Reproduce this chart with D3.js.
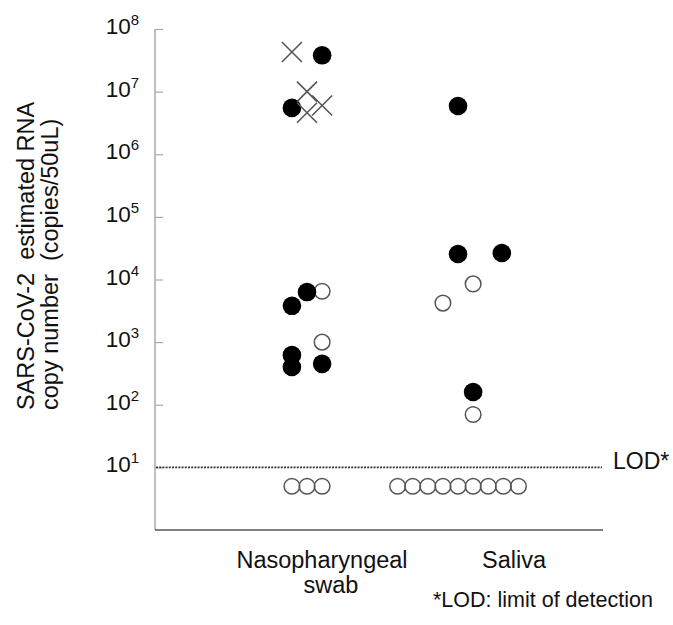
<!DOCTYPE html>
<html>
<head>
<meta charset="utf-8">
<script src="https://cdn.jsdelivr.net/npm/d3@7"></script>
<style>
  body { margin: 0; background: #fff; }
  text { font-family: Arial, "Liberation Sans", sans-serif; fill: #111; }
</style>
</head>
<body>
<svg width="673" height="625"></svg>
<script>
// categories and their slot position on the x axis (jitter slots around each)
var categories = ["Nasopharyngeal swab", "Saliva"];
var categoryCenter = [0, 10];
var yTicks = [1e1, 1e2, 1e3, 1e4, 1e5, 1e6, 1e7, 1e8];
var LOD = 10;

// values: [copies, slot offset]
var npFilled = [[3.8e7, 1], [5.5e6, -1], [6300, 0], [3800, -1], [620, -1], [400, -1], [450, 1]];
var npCross = [[4.3e7, -1], [1.0e7, 0], [4.6e6, 0], [6.0e6, 1]];
var npOpen = [[6500, 1], [1000, 1]];
var npBelow = [[5, -1], [5, 0], [5, 1]];

var salFilled = [[5.9e6, 0], [25500, 0], [26500, 2.9], [160, 1]];
var salOpen = [[8500, 1], [4200, -1], [70, 1]];
var salBelow = [[5, -4], [5, -3], [5, -2], [5, -1], [5, 0], [5, 1], [5, 2], [5, 3], [5, 4]];

var svg = d3.select("svg");

var y = d3.scaleLog().domain([1, 1e8]).range([530, 29]);
var x = d3.scaleLinear().domain([-10, 19.6]).range([156, 603]);

function px(cat, d) { return x(categoryCenter[cat] + d[1]); }

// y axis
var yAxis = d3.axisRight(y).tickValues(yTicks).tickSize(8).tickFormat("");
var ga = svg.append("g").attr("transform", "translate(155,0)").call(yAxis);
ga.select(".domain").remove();
ga.selectAll(".tick line").attr("stroke", "#aaa").attr("stroke-width", 1.2);
svg.append("line")
  .attr("x1", 155).attr("x2", 155).attr("y1", y(1e8)).attr("y2", y(1))
  .attr("stroke", "#aaa").attr("stroke-width", 1.5);

var tl = svg.append("g").selectAll("text").data(yTicks).enter().append("text")
  .attr("x", 139).attr("y", function(d) { return y(d) + 5; })
  .attr("text-anchor", "end").style("font-size", "22.5px");
tl.append("tspan").text("10");
tl.append("tspan").attr("dy", -9).style("font-size", "15px")
  .text(function(d) { return Math.round(Math.log10(d)); });

// x baseline
svg.append("line")
  .attr("x1", 155).attr("x2", 603).attr("y1", y(1)).attr("y2", y(1))
  .attr("stroke", "#555").attr("stroke-width", 1.5);

// LOD line
svg.append("line")
  .attr("x1", 156).attr("x2", 602).attr("y1", y(LOD)).attr("y2", y(LOD))
  .attr("stroke", "#333").attr("stroke-width", 1.8).attr("stroke-dasharray", "2,1.2");
svg.append("text").attr("x", 613).attr("y", y(LOD) + 2)
  .style("font-size", "23px").text("LOD*");

// points
var pts = svg.append("g");

function openCircles(data, cat) {
  pts.selectAll(null).data(data).enter().append("circle")
    .attr("cx", function(d) { return px(cat, d); })
    .attr("cy", function(d) { return y(d[0]); })
    .attr("r", 7.8).attr("fill", "none")
    .attr("stroke", "#555").attr("stroke-width", 1.5);
}
function filledCircles(data, cat) {
  pts.selectAll(null).data(data).enter().append("circle")
    .attr("cx", function(d) { return px(cat, d); })
    .attr("cy", function(d) { return y(d[0]); })
    .attr("r", 9.3).attr("fill", "#000");
}
function crosses(data, cat) {
  var s = 10;
  pts.selectAll(null).data(data).enter().append("path")
    .attr("d", function(d) {
      var cx = px(cat, d), cy = y(d[0]);
      return "M" + (cx - s) + "," + (cy - s) + "L" + (cx + s) + "," + (cy + s) +
             "M" + (cx - s) + "," + (cy + s) + "L" + (cx + s) + "," + (cy - s);
    })
    .attr("stroke", "#555").attr("stroke-width", 1.6).attr("fill", "none");
}

openCircles(npOpen, 0);
openCircles(npBelow, 0);
filledCircles(npFilled, 0);
crosses(npCross, 0);
openCircles(salOpen, 1);
openCircles(salBelow, 1);
filledCircles(salFilled, 1);

// category labels
svg.append("text").attr("x", 322).attr("y", 568).attr("text-anchor", "middle")
  .style("font-size", "23.5px").text("Nasopharyngeal");
svg.append("text").attr("x", 331).attr("y", 593).attr("text-anchor", "middle")
  .style("font-size", "23.5px").text("swab");
svg.append("text").attr("x", 514).attr("y", 568).attr("text-anchor", "middle")
  .style("font-size", "23.5px").text(categories[1]);

svg.append("text").attr("x", 433).attr("y", 607)
  .style("font-size", "21.5px").text("*LOD: limit of detection");

// y label
var yl = svg.append("text").attr("transform", "translate(0,410) rotate(-90)")
  .style("font-size", "23.5px");
yl.append("tspan").attr("x", 0).attr("y", 34).attr("xml:space", "preserve")
  .text("SARS-CoV-2  estimated RNA");
yl.append("tspan").attr("x", 0).attr("y", 58).attr("xml:space", "preserve")
  .text("copy number  (copies/50uL)");
</script>
</body>
</html>
